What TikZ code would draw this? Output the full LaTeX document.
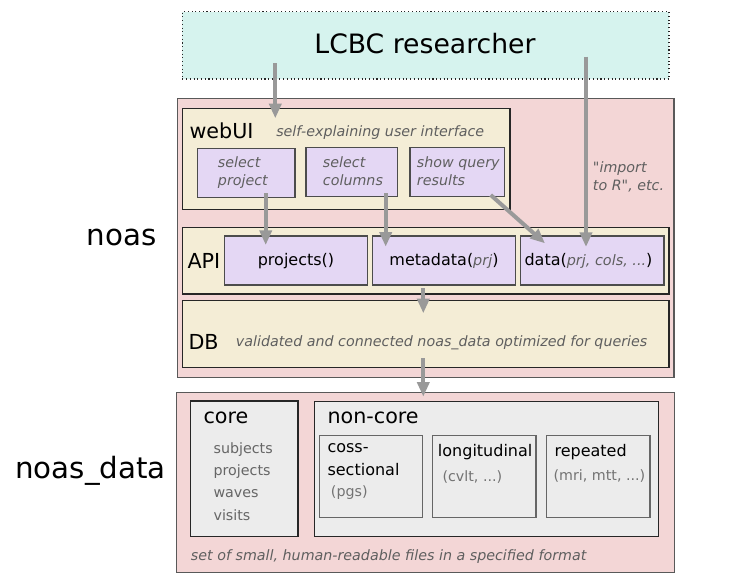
\documentclass[tikz,border=0pt]{standalone}
\usepackage{fontspec}
\setmainfont{DejaVu Sans}[Ligatures=TeXOff]
\usetikzlibrary{arrows.meta,fit,calc}

\definecolor{userfill}{HTML}{D6F3EE}
\definecolor{layerfill}{HTML}{F3D6D6}
\definecolor{partfill}{HTML}{F4EDD6}
\definecolor{funcfill}{HTML}{E4D7F4}
\definecolor{filefill}{HTML}{ECECEC}
\definecolor{notegray}{HTML}{5F5F5F}
\definecolor{flowgray}{HTML}{999999}

\newcommand{\argtxt}[1]{\textcolor{notegray}{\fontsize{10.8}{13}\selectfont\itshape #1}}

\tikzset{
  box/.style={draw=#1, line width=0.8pt, inner sep=0pt},
  box/.default={black!85},
  txt/.style={inner sep=0pt, anchor=base west},
  note/.style={txt, font=\fontsize{10.7}{12.8}\selectfont\itshape, text=notegray, align=left},
  title/.style={txt, font=\fontsize{15.5}{18}\selectfont},
  flow/.style={draw=flowgray, line width=3pt, -{Triangle[length=11pt,width=9pt]}}
}

\begin{document}
\begin{tikzpicture}[x=0.75pt,y=-0.75pt]

  \useasboundingbox (0,0) rectangle (756,585);

  % user
  \node[box, dotted, fill=userfill, fit={(182.3,11.7) (669,79)}] (user) {};
  \node[inner sep=0pt, anchor=base, font=\fontsize{20}{24}\selectfont] (usertxt) at (425,53.3) {LCBC researcher};

  % noas layer
  \node[box=black!65, fill=layerfill, fit={(177.3,98.7) (674,377.7)}] (noas) {};
  \node[txt, anchor=base east, font=\fontsize{22}{26}\selectfont] (noaslbl) at (157,245) {noas};

  \node[box, fill=partfill, fit={(182.7,108.3) (510,209.3)}] (webui) {};
  \node[title] (webuitxt) at (189.3,138) {webUI};
  \node[note] (webuinote) at (276,136) {self-explaining user interface};

  % multi-line texts sit on their last line
  \node[box=black!70, fill=funcfill, fit={(197.7,148.3) (295,197.3)}] (selprj) {};
  \node[note] (selprjtxt) at (217.7,185) {select\\project};
  \node[box=black!70, fill=funcfill, fit={(306,147.7) (397.7,196.7)}] (selcols) {};
  \node[note] (selcolstxt) at (322.7,185) {select\\columns};
  \node[box=black!70, fill=funcfill, fit={(410,147.3) (504.7,196.3)}] (showres) {};
  \node[note] (showrestxt) at (416.7,185) {show query\\results};

  \node[note] (importtxt) at (592.7,190) {"import\\to R", etc.};

  \node[box, fill=partfill, fit={(182.7,227.7) (669,294)}] (api) {};
  \node[title] (apitxt) at (187.3,268.3) {API};

  \node[box=black!70, fill=funcfill, fit={(224.3,236) (367.7,285)}] (fprj) {};
  \node[inner sep=0pt, anchor=base, font=\fontsize{12}{14}\selectfont] (fprjtxt) at (296,265) {projects()};
  \node[box=black!70, fill=funcfill, fit={(372.3,236) (515.7,285)}] (fmeta) {};
  \node[inner sep=0pt, anchor=base, font=\fontsize{12}{14}\selectfont] (fmetatxt) at (444,265) {metadata(\argtxt{prj})};
  \node[box=black!70, fill=funcfill, fit={(520.7,236) (664,285)}] (fdata) {};
  \node[txt, font=\fontsize{12}{14}\selectfont] (fdatatxt) at (524.3,265) {data(\argtxt{prj, cols, ...})};

  \node[box, fill=partfill, fit={(182.7,300.7) (669,367.3)}] (db) {};
  \node[title] (dbtxt) at (188.3,349) {DB};
  \node[note] (dbnote) at (235.7,346.7) {validated and connected noas\_data optimized for queries};

  % noas_data layer
  \node[box=black!65, fill=layerfill, fit={(176.7,392.7) (674.7,572.3)}] (files) {};
  \node[txt, anchor=base east, font=\fontsize{22}{26}\selectfont] (fileslbl) at (166,478.3) {noas\_data};

  \node[box, fill=filefill, fit={(190.7,401) (298,536.7)}] (core) {};
  \node[title] (coretxt) at (203.3,423.3) {core};
  \node[txt, align=left, text=black!60, font=\fontsize{10.7}{16.7}\selectfont] (corelist) at (213.3,520) {subjects\\projects\\waves\\visits};

  \node[box, fill=filefill, fit={(314.3,401.7) (658.7,536.3)}] (noncore) {};
  \node[title] (noncoretxt) at (327.3,423) {non-core};

  \node[box=black!60, fill=filefill, fit={(319.3,435.7) (422.7,517.3)}] (cross) {};
  \node[txt, align=left, font=\fontsize{12}{16.7}\selectfont] (crosstxt) at (327.3,475) {coss-\\sectional};
  \node[txt, text=black!55, font=\fontsize{10.7}{12.8}\selectfont] (crossex) at (330.7,496.7) {(pgs)};

  \node[box=black!60, fill=filefill, fit={(432.7,435.7) (536,517.3)}] (longi) {};
  \node[txt, font=\fontsize{12}{14}\selectfont] (longitxt) at (437.7,456) {longitudinal};
  \node[txt, text=black!55, font=\fontsize{10.7}{12.8}\selectfont] (longiex) at (442.3,481.7) {(cvlt, ...)};

  \node[box=black!60, fill=filefill, fit={(546.7,435.7) (650,517.3)}] (rep) {};
  \node[txt, font=\fontsize{12}{14}\selectfont] (reptxt) at (554.3,456) {repeated};
  \node[txt, text=black!55, font=\fontsize{10.7}{12.8}\selectfont] (repex) at (553.3,480) {(mri, mtt, ...)};

  \node[note] (filesnote) at (190.7,560) {set of small, human-readable files in a specified format};

  % flows
  \coordinate (userout) at (275.3,63.3);
  \coordinate (webuiin) at (275.3,118.3);
  \coordinate (userimp) at (586,56.7);
  \coordinate (datain) at (586,247);
  \coordinate (selprjout) at (265.7,193.3);
  \coordinate (fprjin) at (265.7,245);
  \coordinate (selcolsout) at (385.7,193.3);
  \coordinate (fmetain) at (385.7,246.7);
  \coordinate (showresout) at (490.7,195);
  \coordinate (fdatain) at (545,243.3);
  \coordinate (apiout) at (423.3,288);
  \coordinate (dbin) at (423.3,313.3);
  \coordinate (dbout) at (423.3,358.3);
  \coordinate (filesin) at (423.3,396.7);

  \draw[flow] (userout) -- (webuiin);
  \draw[flow] (userimp) -- (datain);
  \draw[flow] (selprjout) -- (fprjin);
  \draw[flow] (selcolsout) -- (fmetain);
  \draw[flow] (showresout) -- (fdatain);
  \draw[flow] (apiout) -- (dbin);
  \draw[flow] (dbout) -- (filesin);

\end{tikzpicture}
\end{document}
